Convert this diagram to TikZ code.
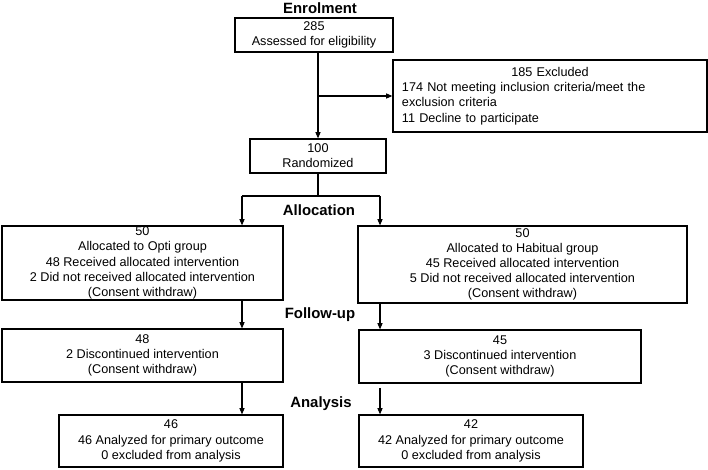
\documentclass[tikz,border=0pt]{standalone}
\usepackage{fontspec}
\setmainfont{Liberation Sans}
\usetikzlibrary{positioning,arrows.meta,calc}

\begin{document}
\begin{tikzpicture}[
    x=0.025cm, y=-0.025cm,
    >={Triangle[length=4.5pt,width=3.6pt]},
    every node/.style={font=\fontsize{9}{10.8}\selectfont},
    box/.style={draw, line width=0.8pt, inner sep=0pt, align=center},
    stagelabel/.style={font=\fontsize{10.6}{12}\selectfont\bfseries},
    flowarrow/.style={->, line width=0.8pt, black},
    flowline/.style={line width=0.8pt, black},
]
\useasboundingbox (0,0) rectangle (708,469);

% ---- Enrolment ----
\node[stagelabel] (enrol) at (320,8) {Enrolment};
\node[box, minimum width=3.95cm, minimum height=0.85cm] (assess) at (314,35) {285\\Assessed for eligibility};
\node[box, minimum width=7.85cm, minimum height=1.8cm, text width=7.4cm, align=left] (excl) at (550,96)
    {{\centering 185 Excluded\par}174 Not meeting inclusion criteria/meet the\\exclusion criteria\\11 Decline to participate};
\node[box, minimum width=3.4cm, minimum height=0.85cm] (rand) at (318,156) {100\\Randomized};

\coordinate (split) at (rand.north |- excl.west);
\draw[flowarrow] (assess.south -| rand.north) -- (rand.north);
\draw[flowarrow] (split) -- (excl.west);

% ---- Allocation ----
\node[stagelabel] (alloc) at (319,210) {Allocation};
\node[box, minimum width=7.025cm, minimum height=1.85cm] (opti) at (142.5,263)
    {50\\Allocated to Opti group\\48 Received allocated intervention\\2 Did not received allocated intervention\\(Consent withdraw)};
\node[box, minimum width=8.225cm, minimum height=1.925cm] (habit) at (522.5,264.5)
    {50\\Allocated to Habitual group\\45 Received allocated intervention\\5 Did not received allocated intervention\\(Consent withdraw)};

\coordinate (branch) at (318,196);
\coordinate (lbranch) at (242,196);
\coordinate (rbranch) at (380,196);
\draw[flowline] (rand.south) -- (branch);
\draw[flowline] (lbranch) -- (rbranch);
\draw[flowarrow] (lbranch) -- (lbranch |- opti.north);
\draw[flowarrow] (rbranch) -- (rbranch |- habit.north);

% ---- Follow-up ----
\node[stagelabel] (follow) at (320,315) {Follow-up};
\node[box, minimum width=7.025cm, minimum height=1.325cm] (optifu) at (142.5,355.5)
    {48\\2 Discontinued intervention\\(Consent withdraw)};
\node[box, minimum width=7.05cm, minimum height=1.325cm] (habitfu) at (500,356.5)
    {45\\3 Discontinued intervention\\(Consent withdraw)};

\draw[flowarrow] (lbranch |- opti.south) -- (lbranch |- optifu.north);
\draw[flowarrow] (rbranch |- habit.south) -- (rbranch |- habitfu.north);

% ---- Analysis ----
\node[stagelabel] (analysis) at (321,404) {Analysis};
\node[box, minimum width=5.6cm, minimum height=1.3cm] (optian) at (171,441)
    {46\\46 Analyzed for primary outcome\\0 excluded from analysis};
\node[box, minimum width=5.6cm, minimum height=1.3cm] (habitan) at (471,441)
    {42\\42 Analyzed for primary outcome\\0 excluded from analysis};

\draw[flowarrow] (lbranch |- optifu.south) -- (lbranch |- optian.north);
\draw[flowarrow] ([yshift=-3pt]rbranch |- habitfu.south) -- (rbranch |- habitan.north);

\end{tikzpicture}
\end{document}
